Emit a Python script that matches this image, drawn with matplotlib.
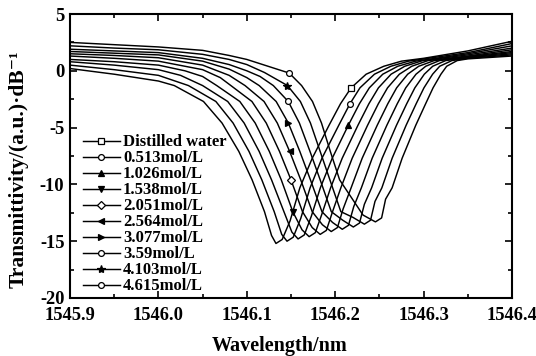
import matplotlib
matplotlib.use("Agg")
import matplotlib.pyplot as plt
from matplotlib.ticker import MultipleLocator

plt.rcParams['font.family'] = ['Liberation Serif', 'DejaVu Serif']
plt.rcParams['font.weight'] = 'bold'

labels = ["Distilled water", "0.513mol/L", "1.026mol/L", "1.538mol/L", "2.051mol/L",
          "2.564mol/L", "3.077mol/L", "3.59mol/L", "4.103mol/L", "4.615mol/L"]
markers = ['s', 'o', '^', 'v', 'D', '<', '>', 'o', '*', 'o']
marker_filled = [False, False, True, True, False, True, True, False, True, False]
marker_x = [1546.218, 1546.2167, 1546.2148, 1546.152, 1546.150,
            1546.1485, 1546.147, 1546.1469, 1546.146, 1546.148]

wl_water = [1545.90, 1545.95, 1546.00, 1546.018, 1546.051, 1546.072, 1546.091, 1546.106, 1546.120, 1546.128,
            1546.133, 1546.140, 1546.149, 1546.160, 1546.174, 1546.193, 1546.206, 1546.218, 1546.235, 1546.255,
            1546.275, 1546.30, 1546.35, 1546.40]
tr_water = [0.2, -0.3, -0.9, -1.3, -2.7, -4.6, -7.1, -9.6, -12.4, -14.5,
            -15.2, -14.85, -13.2, -10.3, -7.7, -4.8, -2.9, -1.5, -0.3, 0.4,
            0.85, 1.1, 1.75, 2.6]

wl_0513 = [1545.90, 1545.95, 1546.00, 1546.034, 1546.065, 1546.0845, 1546.1025, 1546.117, 1546.131, 1546.1395,
           1546.1455, 1546.1525, 1546.161, 1546.1716, 1546.185, 1546.204, 1546.2167, 1546.228, 1546.2444, 1546.263,
           1546.283, 1546.35, 1546.40]
tr_0513 = [0.5, 0.1, -0.4, -1.3, -2.7, -4.6, -7.1, -9.6, -12.4, -14.4,
           -15.0, -14.65, -13.0, -10.3, -7.7, -4.8, -2.9, -1.5, -0.3, 0.4,
           0.85, 1.6, 2.4]

wl_1026 = [1545.90, 1545.95, 1546.00, 1546.025, 1546.050, 1546.0784, 1546.097, 1546.114, 1546.128, 1546.142,
           1546.151, 1546.158, 1546.165, 1546.173, 1546.1832, 1546.1966, 1546.2148, 1546.2274, 1546.2386, 1546.2538,
           1546.2708, 1546.291, 1546.35, 1546.40]
tr_1026 = [0.8, 0.5, 0.1, -0.4, -1.3, -2.7, -4.6, -7.1, -9.6, -12.4,
           -14.2, -14.8, -14.45, -12.8, -10.3, -7.7, -4.8, -2.9, -1.5, -0.3,
           0.4, 0.85, 1.5, 2.2]

wl_1538 = [1545.90, 1545.95, 1546.00, 1546.03, 1546.05, 1546.066, 1546.0921, 1546.1095, 1546.1255, 1546.139,
           1546.152, 1546.1625, 1546.1705, 1546.1775, 1546.185, 1546.1948, 1546.2079, 1546.2257, 1546.2381, 1546.2489,
           1546.2632, 1546.2787, 1546.299, 1546.35, 1546.40]
tr_1538 = [1.0, 0.8, 0.5, 0.0, -0.5, -1.3, -2.7, -4.6, -7.1, -9.6,
           -12.4, -14.0, -14.6, -14.25, -12.6, -10.3, -7.7, -4.8, -2.9, -1.5,
           -0.3, 0.4, 0.9, 1.4, 2.0]

wl_2051 = [1545.90, 1545.95, 1546.00, 1546.05, 1546.07, 1546.082, 1546.1058, 1546.122, 1546.137, 1546.150,
           1546.163, 1546.174, 1546.183, 1546.190, 1546.197, 1546.2064, 1546.2192, 1546.2366, 1546.2488, 1546.2592,
           1546.2726, 1546.2866, 1546.305, 1546.35, 1546.40]
tr_2051 = [1.3, 1.1, 0.85, 0.1, -0.6, -1.3, -2.7, -4.6, -7.1, -9.6,
           -12.4, -13.8, -14.4, -14.05, -12.4, -10.3, -7.7, -4.8, -2.9, -1.5,
           -0.3, 0.4, 0.9, 1.3, 1.85]

wl_2564 = [1545.90, 1545.95, 1546.00, 1546.05, 1546.08, 1546.098, 1546.1195, 1546.1345, 1546.1485, 1546.161,
           1546.174, 1546.1855, 1546.1955, 1546.2025, 1546.209, 1546.218, 1546.2305, 1546.2475, 1546.2595, 1546.2695,
           1546.282, 1546.2945, 1546.312, 1546.35, 1546.40]
tr_2564 = [1.5, 1.35, 1.15, 0.5, -0.4, -1.3, -2.7, -4.6, -7.1, -9.6,
           -12.4, -13.55, -14.15, -13.8, -12.15, -10.3, -7.7, -4.8, -2.9, -1.5,
           -0.3, 0.4, 0.9, 1.25, 1.7]

wl_3077 = [1545.90, 1545.95, 1546.00, 1546.05, 1546.08, 1546.10, 1546.114, 1546.1332, 1546.147, 1546.160,
           1546.172, 1546.185, 1546.197, 1546.208, 1546.215, 1546.221, 1546.2296, 1546.2418, 1546.2584, 1546.2702,
           1546.2798, 1546.2914, 1546.3024, 1546.318, 1546.35, 1546.40]
tr_3077 = [1.7, 1.55, 1.4, 0.85, 0.15, -0.6, -1.3, -2.7, -4.6, -7.1,
           -9.6, -12.4, -13.35, -13.95, -13.6, -11.95, -10.3, -7.7, -4.8, -2.9,
           -1.5, -0.3, 0.4, 0.9, 1.2, 1.6]

wl_359 = [1545.90, 1545.95, 1546.00, 1546.05, 1546.08, 1546.10, 1546.115, 1546.130, 1546.1469, 1546.1595,
          1546.1715, 1546.183, 1546.1956, 1546.2085, 1546.2205, 1546.2275, 1546.233, 1546.2412, 1546.2531, 1546.2693,
          1546.2809, 1546.2901, 1546.3008, 1546.3103, 1546.325, 1546.35, 1546.40]
tr_359 = [1.9, 1.75, 1.6, 1.1, 0.55, 0.0, -0.5, -1.3, -2.7, -4.6,
          -7.1, -9.6, -12.4, -13.15, -13.75, -13.4, -11.75, -10.3, -7.7, -4.8,
          -2.9, -1.5, -0.3, 0.4, 0.9, 1.15, 1.5]

wl_4103 = [1545.90, 1545.95, 1546.00, 1546.05, 1546.08, 1546.10, 1546.12, 1546.146, 1546.1606, 1546.172,
           1546.183, 1546.194, 1546.2064, 1546.220, 1546.233, 1546.240, 1546.245, 1546.2528, 1546.2644, 1546.2802,
           1546.2916, 1546.3004, 1546.3102, 1546.3182, 1546.332, 1546.35, 1546.40]
tr_4103 = [2.2, 2.0, 1.85, 1.45, 1.0, 0.55, -0.15, -1.3, -2.7, -4.6,
           -7.1, -9.6, -12.4, -12.9, -13.5, -13.15, -11.5, -10.3, -7.7, -4.8,
           -2.9, -1.5, -0.3, 0.4, 0.9, 1.1, 1.4]

wl_4615 = [1545.90, 1545.95, 1546.00, 1546.05, 1546.08, 1546.10, 1546.12, 1546.148, 1546.162, 1546.1743,
           1546.1845, 1546.1945, 1546.205, 1546.2315, 1546.2455, 1546.2525, 1546.257, 1546.2644, 1546.2757, 1546.2911,
           1546.3023, 1546.3107, 1546.3196, 1546.3261, 1546.338, 1546.35, 1546.40]
tr_4615 = [2.5, 2.3, 2.1, 1.8, 1.35, 1.0, 0.5, -0.2, -1.3, -2.7,
           -4.6, -7.1, -9.6, -12.7, -13.3, -12.95, -11.3, -10.3, -7.7, -4.8,
           -2.9, -1.5, -0.3, 0.4, 0.9, 1.05, 1.3]

wls = [wl_water, wl_0513, wl_1026, wl_1538, wl_2051, wl_2564, wl_3077, wl_359, wl_4103, wl_4615]
trs = [tr_water, tr_0513, tr_1026, tr_1538, tr_2051, tr_2564, tr_3077, tr_359, tr_4103, tr_4615]

x_ticks = [1545.9, 1546.0, 1546.1, 1546.2, 1546.3, 1546.4]
x_ticklabels = ["1545.9", "1546.0", "1546.1", "1546.2", "1546.3", "1546.4"]
y_ticks = [5, 0, -5, -10, -15, -20]
y_ticklabels = ["5", "0", "-5", "-10", "-15", "-20"]

fig = plt.figure(figsize=(5.36, 3.56), dpi=100)
ax = fig.add_axes([70/536, 1 - 298/356, 442/536, 284/356])

for wl, tr, lab, mk, filled, mx in zip(wls, trs, labels, markers, marker_filled, marker_x):
    idx = min(range(len(wl)), key=lambda i: abs(wl[i] - mx))
    ms = 6 if mk == '*' else 4.2
    if mk == 'D':
        ms = 3.6
    ax.plot(wl, tr, color='black', lw=1.05, marker=mk, markevery=[idx], ms=ms,
            mfc='black' if filled else 'white', mec='black', mew=0.9, label=lab,
            solid_joinstyle='round')

ax.set_xlim(1545.9, 1546.4)
ax.set_ylim(-20, 5)
ax.xaxis.set_minor_locator(MultipleLocator(0.05))
ax.yaxis.set_minor_locator(MultipleLocator(2.5))
ax.set_xticks(x_ticks)
ax.set_xticklabels(x_ticklabels)
ax.set_yticks(y_ticks)
ax.set_yticklabels(y_ticklabels)
ax.tick_params(which='both', direction='in', top=True, right=True, width=1.2)
ax.tick_params(which='major', length=5, labelsize=13.3)
ax.tick_params(which='minor', length=3)
ax.tick_params(axis='x', pad=6.5)
ax.tick_params(axis='y', pad=4)
for s in ax.spines.values():
    s.set_linewidth(1.5)

ax.set_xlabel("Wavelength/nm", fontsize=14.5, fontweight='bold')
ax.xaxis.set_label_coords(0.475, -0.135)
ax.set_ylabel("Transmittivity/(a.u.)·dB\u207b\u00b9", fontsize=15.5, fontweight='bold')
ax.yaxis.set_label_coords(-0.093, 0.455)

leg = ax.legend(loc='upper left', bbox_to_anchor=(0.0295, 0.576), frameon=False,
                fontsize=12, handlelength=2.2, handletextpad=0.2, labelspacing=0.0,
                borderpad=0, borderaxespad=0)

fig.savefig("out.png", dpi=100)
